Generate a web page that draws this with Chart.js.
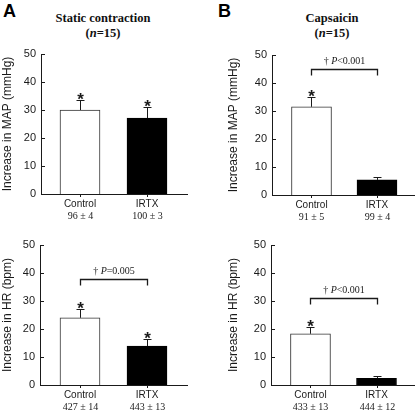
<!DOCTYPE html>
<html>
<head>
<meta charset="utf-8">
<script src="https://cdn.jsdelivr.net/npm/chart.js@4.4.1/dist/chart.umd.min.js"></script>
<style>
  body { margin: 0; background: #fff; }
  #wrap { position: relative; width: 417px; height: 410px; overflow: hidden; background: #fff; }
  .box { position: absolute; }
  .letter { position: absolute; font: bold 18px "Liberation Sans", Arial, sans-serif; color: #000; }
  .title { position: absolute; width: 160px; text-align: center; font: bold 12.5px "Liberation Serif", "Times New Roman", serif; color: #111; line-height: 15px; }
</style>
</head>
<body>
<div id="wrap">
  <div class="letter" style="left:3px; top:1px;">A</div>
  <div class="letter" style="left:218px; top:1px;">B</div>
  <div class="title" style="left:23px; top:11px;">Static contraction<br>(<i>n</i>=15)</div>
  <div class="title" style="left:252px; top:11px;">Capsaicin<br>(<i>n</i>=15)</div>

  <div class="box" style="left:0px; top:40px; width:205px; height:190px;"><canvas id="mapStaticChart"></canvas></div>
  <div class="box" style="left:0px; top:230px; width:205px; height:180px;"><canvas id="hrStaticChart"></canvas></div>
  <div class="box" style="left:226px; top:40px; width:191px; height:190px;"><canvas id="mapCapChart"></canvas></div>
  <div class="box" style="left:226px; top:230px; width:191px; height:180px;"><canvas id="hrCapChart"></canvas></div>
</div>

<script>
// data
const categories = ['Control', 'IRTX'];
const yTicks = [0, 10, 20, 30, 40, 50];

const mapStatic = [30, 27.1];
const mapStaticErr = [3.6, 4.0];
const mapStaticBase = ['96 \u00b1 4', '100 \u00b1 3'];
const mapStaticStars = [true, true];

const hrStatic = [24, 13.9];
const hrStaticErr = [3.0, 2.4];
const hrStaticBase = ['427 \u00b1 14', '443 \u00b1 13'];
const hrStaticStars = [true, true];
const hrStaticSig = { level: 38, sign: '=0.005' };

const mapCap = [31.5, 5.4];
const mapCapErr = [3.6, 0.9];
const mapCapBase = ['91 \u00b1 5', '99 \u00b1 4'];
const mapCapStars = [true, false];
const mapCapSig = { level: 45, sign: '<0.001' };

const hrCap = [18.3, 2.4];
const hrCapErr = [2.4, 0.9];
const hrCapBase = ['433 \u00b1 13', '444 \u00b1 12'];
const hrCapStars = [true, false];
const hrCapSig = { level: 31, sign: '<0.001' };

const SANS = '"Liberation Sans", Arial, sans-serif';
const SERIF = '"Liberation Serif", "Times New Roman", serif';
const INK = '#1a1a1a';

// error bars, asterisks, inward ticks, second label line, significance bracket
const extras = {
    id: 'extras',
    afterDraw(chart, args, opts) {
        const ctx = chart.ctx;
        const xs = chart.scales.x;
        const ys = chart.scales.y;
        const area = chart.chartArea;
        ctx.save();
        ctx.strokeStyle = INK;
        ctx.fillStyle = INK;
        ctx.lineWidth = 1;

        // inward y ticks
        yTicks.forEach(v => {
            const y = Math.round(ys.getPixelForValue(v)) + 0.5;
            ctx.beginPath();
            ctx.moveTo(area.left, y);
            ctx.lineTo(area.left + 4, y);
            ctx.stroke();
        });

        opts.values.forEach((v, i) => {
            const cx = Math.round(xs.getPixelForValue(i + 1)) + 0.5;
            const yTop = ys.getPixelForValue(v);
            const yErr = Math.round(ys.getPixelForValue(v + opts.err[i])) + 0.5;

            // small tick under the axis
            ctx.beginPath();
            ctx.moveTo(cx, area.bottom);
            ctx.lineTo(cx, area.bottom + 3);
            ctx.stroke();

            // error bar
            ctx.beginPath();
            ctx.moveTo(cx, yTop);
            ctx.lineTo(cx, yErr);
            ctx.moveTo(cx - 4, yErr);
            ctx.lineTo(cx + 4, yErr);
            ctx.stroke();

            // asterisk
            if (opts.stars[i]) {
                ctx.font = 'bold 17px ' + SANS;
                ctx.textAlign = 'center';
                ctx.textBaseline = 'alphabetic';
                ctx.fillText('*', cx, yErr + 4);
            }

            // mean +/- SE below the category name
            ctx.font = '10px ' + SERIF;
            ctx.textAlign = 'center';
            ctx.textBaseline = 'middle';
            ctx.fillText(opts.base[i], cx, area.bottom + 22);
        });

        if (opts.sig) {
            const x1 = Math.round(xs.getPixelForValue(1)) + 0.5;
            const x2 = Math.round(xs.getPixelForValue(2)) + 0.5;
            const yb = Math.round(ys.getPixelForValue(opts.sig.level)) + 0.5;
            ctx.lineWidth = 1.3;
            ctx.beginPath();
            ctx.moveTo(x1, yb + 6);
            ctx.lineTo(x1, yb);
            ctx.lineTo(x2, yb);
            ctx.lineTo(x2, yb + 6);
            ctx.stroke();

            const parts = [
                ['\u2020 ', '10px ' + SERIF],
                ['P', 'italic 10px ' + SERIF],
                [opts.sig.sign, '10px ' + SERIF]
            ];
            let total = 0;
            parts.forEach(p => { ctx.font = p[1]; total += ctx.measureText(p[0]).width; });
            let x = (x1 + x2) / 2 - total / 2;
            ctx.textAlign = 'left';
            ctx.textBaseline = 'middle';
            parts.forEach(p => {
                ctx.font = p[1];
                ctx.fillText(p[0], x, yb - 8);
                x += ctx.measureText(p[0]).width;
            });
        }
        ctx.restore();
    }
};

function makePanel(id, p) {
    const canvas = document.getElementById(id);
    new Chart(canvas.getContext('2d'), {
        type: 'bar',
        data: {
            datasets: [{
                data: categories.map((c, i) => ({ x: i + 1, y: p.values[i] })),
                backgroundColor: ['#ffffff', '#000000'],
                borderColor: ['#333333', '#000000'],
                borderWidth: 1,
                barThickness: 40
            }]
        },
        options: {
            responsive: true,
            maintainAspectRatio: false,
            animation: false,
            layout: { padding: { top: p.padTop, right: p.padRight, left: 0, bottom: 0 } },
            plugins: {
                legend: { display: false },
                tooltip: { enabled: false },
                extras: { values: p.values, err: p.err, stars: p.stars, base: p.base, sig: p.sig }
            },
            scales: {
                x: {
                    type: 'linear',
                    offset: false,
                    min: p.xmin,
                    max: p.xmax,
                    afterBuildTicks: scale => { scale.ticks = categories.map((c, i) => ({ value: i + 1 })); },
                    afterFit: scale => { scale.height = p.xHeight; },
                    grid: { display: false, drawTicks: false },
                    border: { display: true, color: INK, width: 1 },
                    ticks: {
                        autoSkip: false,
                        maxRotation: 0,
                        padding: 4,
                        color: INK,
                        font: { family: SANS, size: 10 },
                        callback: v => categories[v - 1]
                    }
                },
                y: {
                    min: 0,
                    max: 50,
                    afterBuildTicks: scale => { scale.ticks = yTicks.map(v => ({ value: v })); },
                    afterFit: scale => { scale.width = p.yWidth; },
                    grid: { display: false, drawTicks: false },
                    border: { display: true, color: INK, width: 1 },
                    ticks: { padding: 5, color: INK, font: { family: SANS, size: 11 } },
                    title: {
                        display: true,
                        text: p.ytitle,
                        color: INK,
                        padding: 0,
                        font: { family: SANS, size: 12 }
                    }
                }
            }
        },
        plugins: [extras]
    });
}

makePanel('mapStaticChart', {
    values: mapStatic, err: mapStaticErr, stars: mapStaticStars, base: mapStaticBase, sig: null,
    ytitle: 'Increase in MAP (mmHg)',
    padTop: 14, padRight: 18, yWidth: 41, xHeight: 36, xmin: 0.418, xmax: 2.597
});
makePanel('hrStaticChart', {
    values: hrStatic, err: hrStaticErr, stars: hrStaticStars, base: hrStaticBase, sig: hrStaticSig,
    ytitle: 'Increase in HR (bpm)',
    padTop: 15, padRight: 18, yWidth: 40, xHeight: 25, xmin: 0.403, xmax: 2.597
});
makePanel('mapCapChart', {
    values: mapCap, err: mapCapErr, stars: mapCapStars, base: mapCapBase, sig: mapCapSig,
    ytitle: 'Increase in MAP (mmHg)',
    padTop: 15, padRight: 3, yWidth: 46, xHeight: 35, xmin: 0.397, xmax: 2.565
});
makePanel('hrCapChart', {
    values: hrCap, err: hrCapErr, stars: hrCapStars, base: hrCapBase, sig: hrCapSig,
    ytitle: 'Increase in HR (bpm)',
    padTop: 15, padRight: 3, yWidth: 45, xHeight: 25, xmin: 0.402, xmax: 2.568
});
</script>
</body>
</html>
